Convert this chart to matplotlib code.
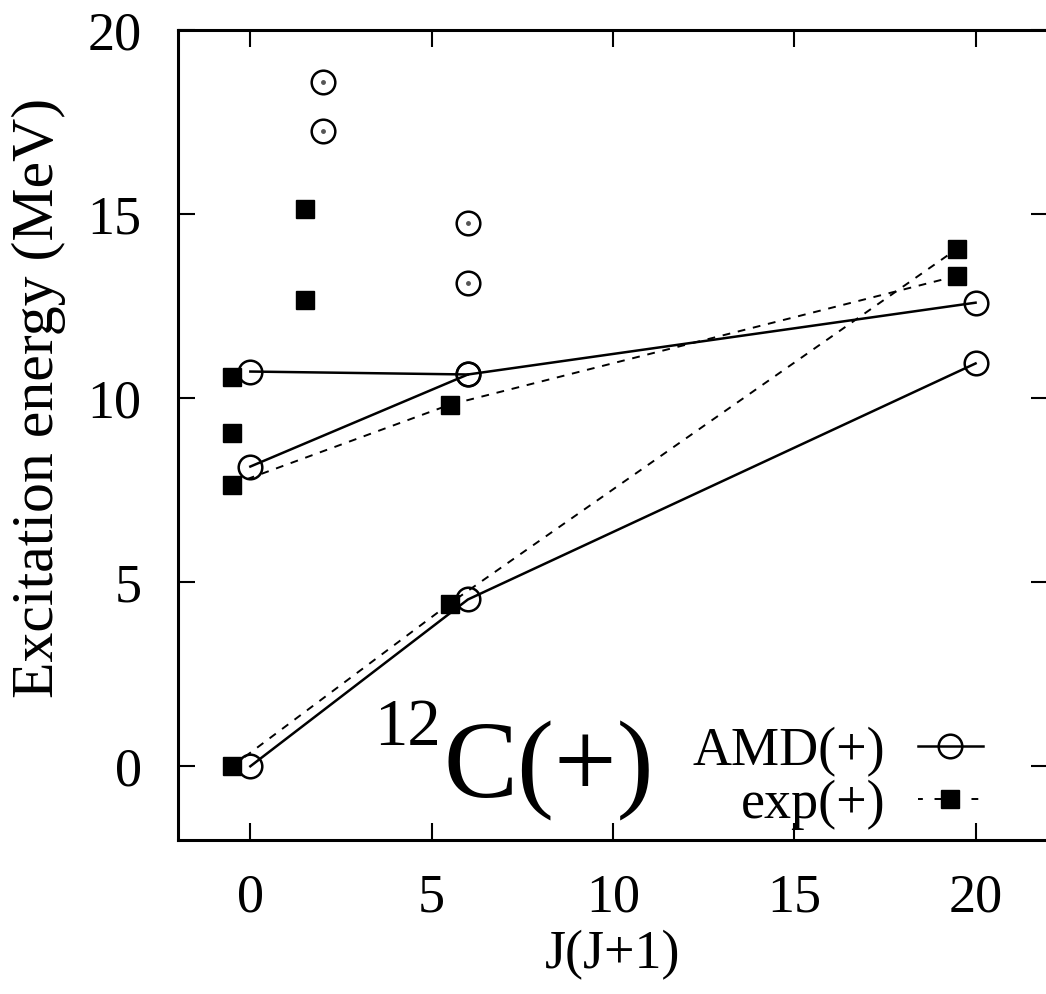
import numpy as np
import matplotlib
matplotlib.use('Agg')
import matplotlib.pyplot as plt

plt.rcParams['font.family'] = ['Liberation Serif', 'DejaVu Serif']

# AMD(+) bands, connected by solid lines
amd_band1_x = [0, 6, 20]
amd_band1_y = [0.0, 4.53, 10.94]
amd_band2_x = [0, 6, 20]
amd_band2_y = [8.14, 10.64, 12.59]
amd_band3_x = [0, 6]
amd_band3_y = [10.72, 10.64]

# AMD(+) states not in a band (dotted circles)
amd_other_x = [2, 2, 6, 6]
amd_other_y = [18.59, 17.26, 14.76, 13.13]

# exp(+) bands, shifted left by 0.5 in J(J+1)
exp_band1_x = [-0.5, 5.5, 19.5]
exp_band1_y = [0.0, 4.42, 14.06]
exp_band2_x = [-0.5, 5.5, 19.5]
exp_band2_y = [7.65, 9.82, 13.32]

# other exp(+) states
exp_other_x = [-0.5, -0.5, 1.5, 1.5]
exp_other_y = [9.04, 10.58, 15.14, 12.67]

fs = 39

fig = plt.figure(figsize=(10.46, 9.94), dpi=100)
ax = fig.add_axes([0.170, 0.155, 0.832, 0.815])

circ = dict(marker='o', ms=17, mfc='none', mec='black', mew=1.8)
sq = dict(marker='s', ms=13, mfc='black', mec='black')

ax.plot(exp_band1_x, exp_band1_y, ls=(0, (4, 4)), color='black', lw=1.4, **sq)
ax.plot(exp_band2_x, exp_band2_y, ls=(0, (4, 4)), color='black', lw=1.4, **sq)
ax.plot(exp_other_x, exp_other_y, ls='none', **sq)

ax.plot(amd_band1_x, amd_band1_y, color='black', lw=1.8, **circ)
ax.plot(amd_band2_x, amd_band2_y, color='black', lw=1.8, **circ)
ax.plot(amd_band3_x, amd_band3_y, color='black', lw=1.8, **circ)
ax.plot(amd_other_x, amd_other_y, ls='none', **circ)
ax.plot(amd_other_x, amd_other_y, ls='none', marker='o', ms=2.5, color='#555555')

# legend handles
h1, = ax.plot([], [], color='black', lw=1.8, **circ)
h2, = ax.plot([], [], ls=(1, (3.5, 6)), color='black', lw=1.4, **sq)
ax.legend([h1, h2], ['AMD(+)', 'exp(+)'], loc='lower right',
          bbox_to_anchor=(0.925, 0.012), frameon=False, markerfirst=False,
          fontsize=fs, handlelength=1.2, handletextpad=0.6,
          borderpad=0, borderaxespad=0, labelspacing=0.05)

ax.text(0.225, 0.117, '12', transform=ax.transAxes, fontsize=48,
        ha='left', va='baseline')
ax.text(0.305, 0.052, 'C(+)', transform=ax.transAxes, fontsize=80,
        ha='left', va='baseline')

ax.set_xlim(-2, 22)
ax.set_ylim(-2, 20)
ax.set_xticks([0, 5, 10, 15, 20])
ax.set_yticks([0, 5, 10, 15, 20])
ax.tick_params(direction='in', length=12, width=1.5, labelsize=fs,
               top=True, right=True)
ax.tick_params(axis='x', pad=24)
ax.tick_params(axis='y', pad=26)
for s in ax.spines.values():
    s.set_linewidth(2.2)

ax.set_xlabel('J(J+1)', fontsize=fs, labelpad=4)
ax.set_ylabel('Excitation energy (MeV)', fontsize=43)
ax.yaxis.set_label_coords(-0.128, 0.546)

fig.savefig('out.png', dpi=100)
